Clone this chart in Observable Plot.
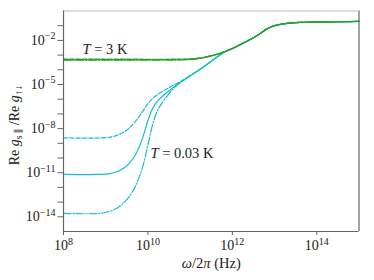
<!DOCTYPE html>
<html>
<head>
<meta charset="utf-8">
<script src="https://cdn.jsdelivr.net/npm/d3@7"></script>
<script src="https://cdn.jsdelivr.net/npm/@observablehq/plot@0.6"></script>
<style>
  html, body { margin: 0; padding: 0; background: white; }
</style>
</head>
<body>
<div id="chart"></div>
<script>
// ---- data (log10 of frequency in Hz, log10 of ratio) ----
const xTickExps = [8, 10, 12, 14];
const yTickExps = [-2, -5, -8, -11, -14];
const yMinorExps = [-1, -2, -3, -4, -5, -6, -7, -8, -9, -10, -11, -12, -13, -14];

// T = 3 K (green), three line styles almost coincide
const green3KX      = [8, 9.5, 10.5, 10.8, 11.0, 11.25, 11.5, 11.75, 12.0, 12.25, 12.5, 12.65, 12.8, 12.95, 13.1, 13.3, 13.6, 14.0, 14.5, 15.0];
const green3KSolidY = [-3.31, -3.31, -3.31, -3.30, -3.28, -3.20, -3.05, -2.84, -2.55, -2.20, -1.82, -1.55, -1.25, -1.05, -0.93, -0.84, -0.78, -0.75, -0.73, -0.71];
const green3KDashY  = [-3.28, -3.28, -3.28, -3.27, -3.26, -3.18, -3.04, -2.83, -2.55, -2.20, -1.82, -1.55, -1.25, -1.05, -0.93, -0.84, -0.78, -0.75, -0.73, -0.71];
const green3KDotY   = [-3.34, -3.34, -3.34, -3.33, -3.30, -3.22, -3.06, -2.85, -2.56, -2.20, -1.82, -1.55, -1.25, -1.05, -0.93, -0.84, -0.78, -0.75, -0.73, -0.71];

// T = 0.03 K (cyan)
const cyanDashX  = [8, 9.0, 9.2, 9.4, 9.55, 9.7, 9.85, 10.0, 10.15, 10.3, 10.45, 10.6, 10.77, 11.0, 11.25, 11.5, 11.8, 12.0, 12.25, 12.5, 12.65, 12.8, 12.95, 13.1, 13.3, 13.6, 14.0, 14.5, 15.0];
const cyanDashY  = [-8.63, -8.62, -8.52, -8.28, -7.98, -7.52, -6.95, -6.30, -5.85, -5.55, -5.29, -5.05, -4.80, -4.40, -3.92, -3.42, -2.80, -2.55, -2.20, -1.82, -1.55, -1.25, -1.05, -0.93, -0.84, -0.78, -0.75, -0.73, -0.71];
const cyanSolidX = [8, 8.8, 9.1, 9.3, 9.45, 9.6, 9.7, 9.8, 9.9, 10.0, 10.1, 10.2, 10.3, 10.45, 10.6, 10.77, 11.0, 11.25, 11.5, 11.8, 12.0, 12.25, 12.5, 12.65, 12.8, 12.95, 13.1, 13.3, 13.6, 14.0, 14.5, 15.0];
const cyanSolidY = [-11.12, -11.12, -11.06, -10.90, -10.65, -10.22, -9.80, -9.20, -8.40, -7.45, -6.70, -6.22, -5.92, -5.55, -5.20, -4.84, -4.41, -3.93, -3.42, -2.80, -2.55, -2.20, -1.82, -1.55, -1.25, -1.05, -0.93, -0.84, -0.78, -0.75, -0.73, -0.71];
const cyanDotX   = [8, 8.9, 9.1, 9.3, 9.45, 9.6, 9.7, 9.8, 9.9, 10.0, 10.1, 10.2, 10.3, 10.45, 10.6, 10.77, 11.0, 11.25, 11.5, 11.8, 12.0, 12.25, 12.5, 12.65, 12.8, 12.95, 13.1, 13.3, 13.6, 14.0, 14.5, 15.0];
const cyanDotY   = [-13.77, -13.76, -13.62, -13.35, -12.98, -12.45, -11.95, -11.25, -10.35, -9.10, -7.85, -6.95, -6.40, -5.80, -5.28, -4.87, -4.42, -3.94, -3.43, -2.81, -2.55, -2.20, -1.82, -1.55, -1.25, -1.05, -0.93, -0.84, -0.78, -0.75, -0.73, -0.71];

const annotations = [
  {xe: 8.45, ye: -2.61, label: "T = 3 K"},
  {xe: 10.06, ye: -9.68, label: "T = 0.03 K"}
];
const xLabel = "ω/2π (Hz)";
const yLabel = "Re gs∥ /Re g↑↓";

const GREEN = "#2ca02c";
const CYAN = "#17becf";

const pts = (xs, ys) => xs.map((x, i) => ({f: 10 ** x, v: 10 ** ys[i]}));
const sup = e => `10^${e < 0 ? "\u2212" + (-e) : e}`;

const lw = 1.2;
const line = (xs, ys, color, dash) => Plot.line(pts(xs, ys), {
  x: "f", y: "v", stroke: color, strokeWidth: lw, curve: "catmull-rom",
  strokeDasharray: dash
});

const chart = Plot.plot({
  width: 374,
  height: 280,
  marginLeft: 63,
  marginRight: 15.5,
  marginTop: 10.5,
  marginBottom: 49,
  x: {type: "log", domain: [1e8, 1e15]},
  y: {type: "log", domain: [1e-15, 1]},
  style: {fontFamily: "'Liberation Serif', 'DejaVu Serif', serif", fontSize: "14px", background: "white", color: "#222"},
  marks: [
    Plot.axisX({ticks: xTickExps.map(e => 10 ** e), tickSize: 4, tickPadding: 5, fontSize: 14,
      tickFormat: d => sup(Math.round(Math.log10(d))), stroke: "#666", label: null}),
    Plot.axisY({ticks: yMinorExps.map(e => 10 ** e), tickSize: 5.5, tickPadding: 2.5, fontSize: 14,
      tickFormat: d => { const e = Math.round(Math.log10(d)); return yTickExps.includes(e) ? sup(e) : ""; },
      stroke: "#666", label: null}),
    line(cyanDashX, cyanDashY, CYAN, "4.4,1.9"),
    line(cyanSolidX, cyanSolidY, CYAN, null),
    line(cyanDotX, cyanDotY, CYAN, "7.7,1.9,1.2,1.9"),
    line(green3KX, green3KSolidY, GREEN, null),
    line(green3KX, green3KDashY, GREEN, "4.4,1.9"),
    line(green3KX, green3KDotY, GREEN, "7.7,1.9,1.2,1.9"),
    Plot.ruleY([1], {stroke: "#bbb", strokeWidth: 1.2}),
    Plot.ruleX([1e15], {stroke: "#666", strokeWidth: 1.2}),
    Plot.ruleX([1e8], {stroke: "#666", strokeWidth: 1.2}),
    Plot.ruleY([1e-15], {stroke: "#666", strokeWidth: 1.2}),
    Plot.text(annotations, {x: d => 10 ** d.xe, y: d => 10 ** d.ye, text: "label",
      textAnchor: "start", fontSize: 14.5, fill: "#222"}),
    Plot.text([xLabel], {frameAnchor: "bottom", dy: 36, text: d => d, fontSize: 14.5, fill: "#222"}),
    Plot.text([yLabel], {frameAnchor: "left", textAnchor: "middle", dx: -49, dy: 4, rotate: -90, text: d => d, fontSize: 14, fill: "#222"})
  ]
});

document.getElementById("chart").appendChild(chart);

// ---- rich text (italics, super/subscripts) ----
const NS = "http://www.w3.org/2000/svg";
function rich(el, parts) {
  el.textContent = "";
  let shift = 0;
  for (const p of parts) {
    const ts = document.createElementNS(NS, "tspan");
    ts.textContent = p.t;
    if (p.i) ts.setAttribute("font-style", "italic");
    const target = p.sub ? 3 : p.sup ? -5.5 : 0;
    if (target !== shift) { ts.setAttribute("dy", (target - shift) + "px"); shift = target; }
    if (p.sub || p.sup) ts.setAttribute("font-size", p.size || "0.72em");
    el.appendChild(ts);
  }
}
const richMap = {
  "T = 3 K": [{t: "T", i: 1}, {t: " = 3 K"}],
  "T = 0.03 K": [{t: "T", i: 1}, {t: " = 0.03 K"}],
  [xLabel]: [{t: "ω", i: 1}, {t: "/2"}, {t: "π", i: 1}, {t: " (Hz)"}],
  [yLabel]: [{t: "Re "}, {t: "g", i: 1}, {t: "s\u2009∥", sub: 1}, {t: " /Re "}, {t: "g", i: 1}, {t: "↑↓", sub: 1}]
};
chart.querySelectorAll("text").forEach(el => {
  const s = el.textContent;
  const m = s.match(/^10\^(\u2212?\d+)$/);
  if (m) rich(el, [{t: "10"}, {t: m[1], sup: 1, size: "10px"}]);
  else if (richMap[s]) rich(el, richMap[s]);
});
</script>
</body>
</html>
